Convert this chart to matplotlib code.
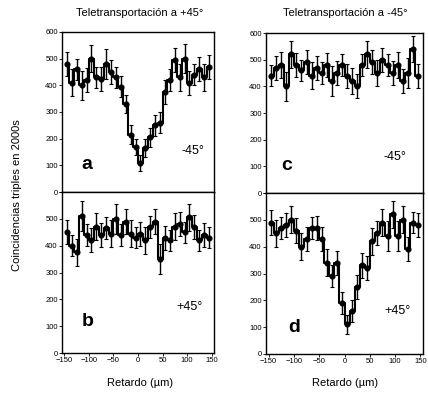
import numpy as np
import matplotlib
matplotlib.use("Agg")
import matplotlib.pyplot as plt

plt.rcParams['font.family'] = ['Liberation Sans Narrow', 'Liberation Sans', 'DejaVu Sans']

# ==== datos ====
retardo = [-145, -135, -125, -115, -105, -95, -85, -75, -65, -55,
           -45, -35, -25, -15, -5, 5, 15, 25, 35, 45,
           55, 65, 75, 85, 95, 105, 115, 125, 135, 145]

cuentas_a = [480, 410, 460, 400, 420, 500, 430, 425, 480, 450,
             430, 395, 330, 215, 170, 110, 165, 205, 250, 260,
             375, 420, 495, 430, 500, 410, 440, 460, 430, 470]
cuentas_b = [450, 400, 375, 510, 440, 420, 470, 440, 465, 445,
             500, 440, 490, 445, 430, 445, 420, 470, 490, 350,
             430, 420, 470, 480, 450, 505, 470, 420, 440, 430]
cuentas_c = [440, 470, 480, 400, 520, 480, 460, 490, 440, 470,
             450, 480, 420, 450, 480, 440, 420, 400, 480, 520,
             490, 450, 500, 480, 450, 480, 420, 450, 540, 440]
cuentas_d = [490, 450, 470, 480, 500, 460, 400, 430, 470, 470,
             430, 340, 290, 340, 190, 110, 160, 250, 330, 320,
             420, 450, 490, 440, 520, 440, 500, 390, 490, 480]

err_a = [45, 50, 40, 55, 45, 50, 40, 45, 55, 45, 40, 40, 35, 35, 30, 30, 35, 35, 40, 40,
         45, 40, 45, 50, 55, 45, 40, 45, 50, 45]
err_b = [45, 40, 50, 55, 40, 45, 50, 45, 40, 50, 55, 40, 45, 50, 40, 45, 50, 40, 45, 55,
         45, 40, 50, 45, 40, 50, 45, 40, 45, 40]
err_c = [40, 45, 50, 55, 50, 45, 40, 45, 50, 45, 40, 45, 55, 45, 40, 45, 50, 45, 40, 50,
         45, 50, 45, 40, 45, 50, 45, 55, 50, 45]
err_d = [45, 50, 40, 45, 50, 45, 50, 45, 40, 45, 45, 50, 40, 45, 40, 35, 40, 45, 45, 45,
         50, 45, 50, 55, 50, 55, 50, 45, 40, 45]

titulos = ["Teletransportación a +45°", "Teletransportación a -45°"]
letras = ["a", "b", "c", "d"]
angulos = ["-45°", "+45°", "-45°", "+45°"]

# ==== figura ====
fig = plt.figure(figsize=(4.28, 3.97), dpi=100)
W, H = 428.0, 397.0

def caja(x0, y0, x1, y1):
    return [x0 / W, 1 - y1 / H, (x1 - x0) / W, (y1 - y0) / H]

ax_a = fig.add_axes(caja(62, 32, 214, 192))
ax_b = fig.add_axes(caja(62, 192, 214, 353))
ax_c = fig.add_axes(caja(266, 33, 423, 193))
ax_d = fig.add_axes(caja(266, 193, 423, 354))

paneles = [(ax_a, cuentas_a, err_a), (ax_b, cuentas_b, err_b),
           (ax_c, cuentas_c, err_c), (ax_d, cuentas_d, err_d)]

letra_pos = [(0.13, 0.12), (0.13, 0.14), (0.10, 0.12), (0.14, 0.11)]
ang_pos = [(0.86, 0.22), (0.84, 0.25), (0.82, 0.19), (0.84, 0.23)]

yt = list(range(0, 601, 100))

for i, (ax, y, e) in enumerate(paneles):
    ax.step(retardo, y, where='mid', color='black', lw=1.5)
    ax.errorbar(retardo, y, yerr=e, fmt='o', ms=3.4, color='black',
                ecolor='black', elinewidth=1.0, capsize=1.5, capthick=0.8)
    ax.set_xlim(-155, 155)
    ax.set_ylim(0, 600)
    ax.set_yticks(yt)
    if i in (1, 3):
        # la etiqueta 600 queda tapada por el panel de arriba
        ax.set_yticklabels([str(v) for v in yt[:-1]] + [""])
    ax.set_xticks(range(-150, 151, 50))
    ax.tick_params(axis='both', labelsize=5.5, length=2, width=0.6, pad=1)
    if i in (0, 2):
        ax.tick_params(axis='x', labelbottom=False)
    for s in ax.spines.values():
        s.set_linewidth(1.0)
    ax.text(letra_pos[i][0], letra_pos[i][1], letras[i], transform=ax.transAxes,
            fontsize=14, fontweight='bold', ha='left', va='bottom')
    ax.text(ang_pos[i][0], ang_pos[i][1], angulos[i], transform=ax.transAxes,
            fontsize=9, ha='center', va='bottom')

fig.text(140 / W, 1 - 13 / H, titulos[0], ha='center', va='center', fontsize=8)
fig.text(345 / W, 1 - 13 / H, titulos[1], ha='center', va='center', fontsize=8)
fig.text(17 / W, 1 - 195 / H, "Coincidencias triples en 2000s", rotation=90,
         ha='center', va='center', fontsize=8)
fig.text(140 / W, 1 - 383 / H, "Retardo (µm)", ha='center', va='center', fontsize=8)
fig.text(345 / W, 1 - 383 / H, "Retardo (µm)", ha='center', va='center', fontsize=8)

fig.savefig("out.png", dpi=100)
